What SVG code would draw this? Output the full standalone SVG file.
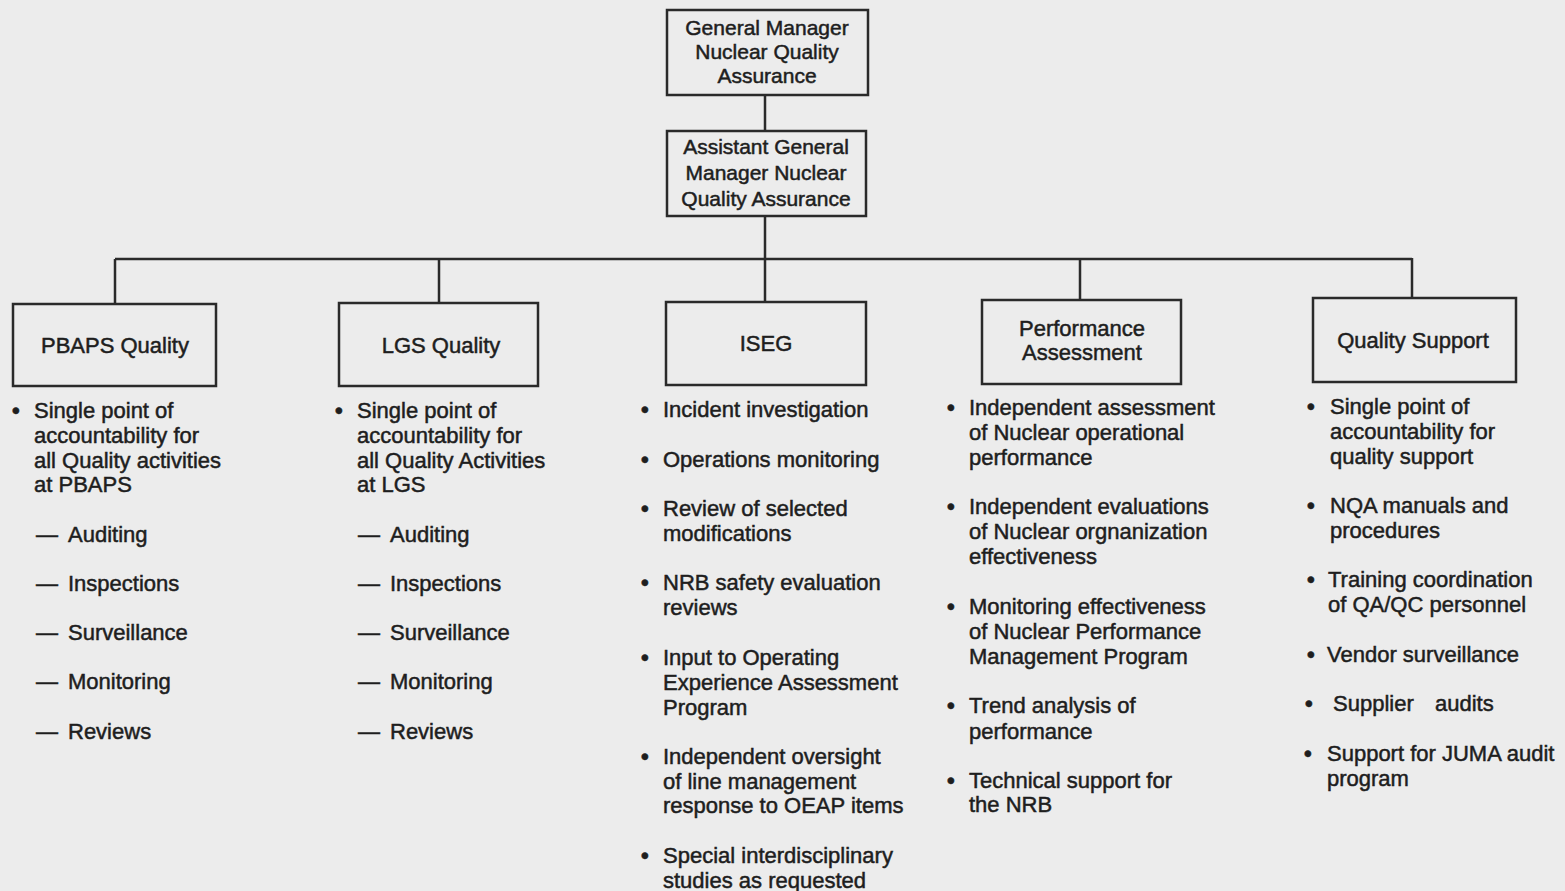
<svg xmlns="http://www.w3.org/2000/svg" width="1565" height="891" viewBox="0 0 1565 891">
<style>
.bg{fill:#ececec}
.box{fill:none;stroke:#2a2a2a;stroke-width:2.5}
.ln{fill:none;stroke:#2a2a2a;stroke-width:2.5}
text{font-family:"Liberation Sans",Arial,sans-serif;fill:#1e1e1e;stroke:#1e1e1e;stroke-width:0.5}
.h{font-size:21px;text-anchor:middle}
.l{font-size:22px;text-anchor:middle}
.t{font-size:22px}
.b{font-size:22px;font-weight:bold}
</style>
<rect class="bg" x="0" y="0" width="1565" height="891"/>
<g id="connectors">
<path class="ln" d="M765 95V131M765 216V258M115 259H1412M115 259V304M439 259V303M765 258V302M1080 258V300M1412 258V298"/>
</g>
<g id="gm">
<rect class="box" x="667" y="10" width="201" height="85"/>
<text class="h" x="767" y="35">General Manager</text>
<text class="h" x="767" y="59">Nuclear Quality</text>
<text class="h" x="767" y="83">Assurance</text>
</g>
<g id="agm">
<rect class="box" x="667" y="131" width="199" height="85"/>
<text class="h" x="766" y="154">Assistant General</text>
<text class="h" x="766" y="180">Manager Nuclear</text>
<text class="h" x="766" y="206">Quality Assurance</text>
</g>
<g id="pbaps">
<rect class="box" x="13" y="304" width="203" height="82"/>
<text class="l" x="115" y="353">PBAPS Quality</text>
<text class="b" x="12" y="418">•</text>
<text class="t" x="34" y="418">Single point of</text>
<text class="t" x="34" y="443">accountability for</text>
<text class="t" x="34" y="468">all Quality activities</text>
<text class="t" x="34" y="492">at PBAPS</text>
<text class="t" x="36" y="542">—</text><text class="t" x="68" y="542">Auditing</text>
<text class="t" x="36" y="591">—</text><text class="t" x="68" y="591">Inspections</text>
<text class="t" x="36" y="640">—</text><text class="t" x="68" y="640">Surveillance</text>
<text class="t" x="36" y="689">—</text><text class="t" x="68" y="689">Monitoring</text>
<text class="t" x="36" y="739">—</text><text class="t" x="68" y="739">Reviews</text>
</g>
<g id="lgs">
<rect class="box" x="339" y="303" width="199" height="83"/>
<text class="l" x="441" y="353">LGS Quality</text>
<text class="b" x="335" y="418">•</text>
<text class="t" x="357" y="418">Single point of</text>
<text class="t" x="357" y="443">accountability for</text>
<text class="t" x="357" y="468">all Quality Activities</text>
<text class="t" x="357" y="492">at LGS</text>
<text class="t" x="358" y="542">—</text><text class="t" x="390" y="542">Auditing</text>
<text class="t" x="358" y="591">—</text><text class="t" x="390" y="591">Inspections</text>
<text class="t" x="358" y="640">—</text><text class="t" x="390" y="640">Surveillance</text>
<text class="t" x="358" y="689">—</text><text class="t" x="390" y="689">Monitoring</text>
<text class="t" x="358" y="739">—</text><text class="t" x="390" y="739">Reviews</text>
</g>
<g id="iseg">
<rect class="box" x="666" y="302" width="200" height="83"/>
<text class="l" x="766" y="351">ISEG</text>
<text class="b" x="641" y="417">•</text><text class="t" x="663" y="417">Incident investigation</text>
<text class="b" x="641" y="467">•</text><text class="t" x="663" y="467">Operations monitoring</text>
<text class="b" x="641" y="516">•</text><text class="t" x="663" y="516">Review of selected</text>
<text class="t" x="663" y="541">modifications</text>
<text class="b" x="641" y="590">•</text><text class="t" x="663" y="590">NRB safety evaluation</text>
<text class="t" x="663" y="615">reviews</text>
<text class="b" x="641" y="665">•</text><text class="t" x="663" y="665">Input to Operating</text>
<text class="t" x="663" y="690">Experience Assessment</text>
<text class="t" x="663" y="715">Program</text>
<text class="b" x="641" y="764">•</text><text class="t" x="663" y="764">Independent oversight</text>
<text class="t" x="663" y="789">of line management</text>
<text class="t" x="663" y="813">response to OEAP items</text>
<text class="b" x="641" y="863">•</text><text class="t" x="663" y="863">Special interdisciplinary</text>
<text class="t" x="663" y="888">studies as requested</text>
</g>
<g id="perf">
<rect class="box" x="982" y="300" width="199" height="84"/>
<text class="l" x="1082" y="336">Performance</text>
<text class="l" x="1082" y="360">Assessment</text>
<text class="b" x="947" y="415">•</text><text class="t" x="969" y="415">Independent assessment</text>
<text class="t" x="969" y="440">of Nuclear operational</text>
<text class="t" x="969" y="465">performance</text>
<text class="b" x="947" y="514">•</text><text class="t" x="969" y="514">Independent evaluations</text>
<text class="t" x="969" y="539">of Nuclear orgnanization</text>
<text class="t" x="969" y="564">effectiveness</text>
<text class="b" x="947" y="614">•</text><text class="t" x="969" y="614">Monitoring effectiveness</text>
<text class="t" x="969" y="639">of Nuclear Performance</text>
<text class="t" x="969" y="664">Management Program</text>
<text class="b" x="947" y="713">•</text><text class="t" x="969" y="713">Trend analysis of</text>
<text class="t" x="969" y="739">performance</text>
<text class="b" x="947" y="788">•</text><text class="t" x="969" y="788">Technical support for</text>
<text class="t" x="969" y="812">the NRB</text>
</g>
<g id="qs">
<rect class="box" x="1313" y="298" width="203" height="84"/>
<text class="l" x="1413" y="348">Quality Support</text>
<text class="b" x="1307" y="414">•</text><text class="t" x="1330" y="414">Single point of</text>
<text class="t" x="1330" y="439">accountability for</text>
<text class="t" x="1330" y="464">quality support</text>
<text class="b" x="1307" y="513">•</text><text class="t" x="1330" y="513">NQA manuals and</text>
<text class="t" x="1330" y="538">procedures</text>
<text class="b" x="1307" y="587">•</text><text class="t" x="1328" y="587">Training coordination</text>
<text class="t" x="1328" y="612">of QA/QC personnel</text>
<text class="b" x="1307" y="662">•</text><text class="t" x="1327" y="662">Vendor surveillance</text>
<text class="b" x="1305" y="711">•</text><text class="t" x="1333" y="711">Supplier</text><text class="t" x="1435" y="711">audits</text>
<text class="b" x="1304" y="761">•</text><text class="t" x="1327" y="761">Support for JUMA audit</text>
<text class="t" x="1327" y="786">program</text>
</g>
</svg>
